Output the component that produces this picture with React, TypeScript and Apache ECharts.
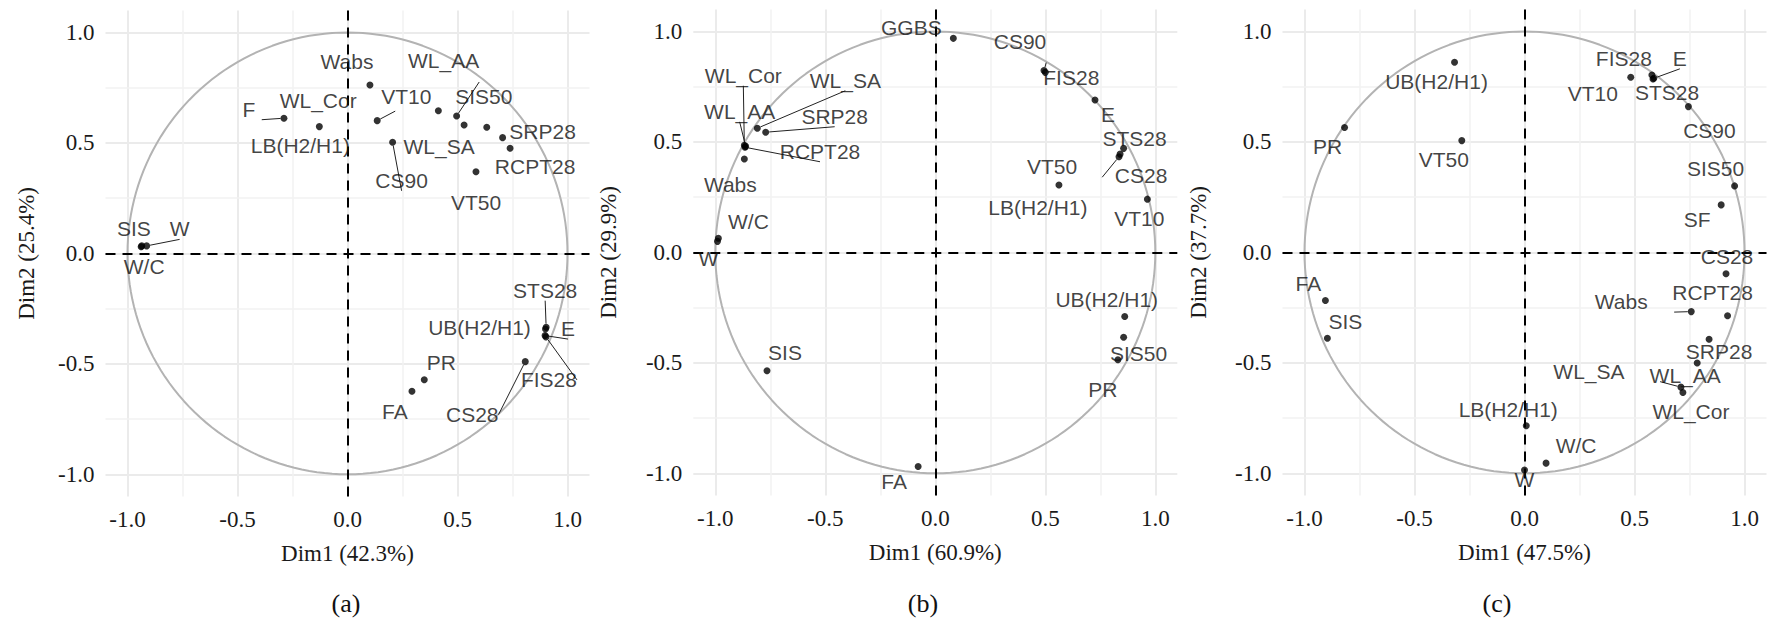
import React, { useEffect, useRef } from "react";
import * as echarts from "echarts";

// ---------- tick / grid values ----------
const tickValues = [-1, -0.5, 0, 0.5, 1];
const majorGrid = [-1, -0.5, 0, 0.5, 1];
const minorGrid = [-0.75, -0.25, 0.25, 0.75];

const dim1Titles = ["Dim1 (42.3%)", "Dim1 (60.9%)", "Dim1 (47.5%)"];
const dim2Titles = ["Dim2 (25.4%)", "Dim2 (29.9%)", "Dim2 (37.7%)"];
const captions = ["(a)", "(b)", "(c)"];

// ---------- panel (a) ----------
const varsA = ["Wabs", "VT10", "WL_Cor", "F", "LB(H2/H1)", "CS90", "WL_AA", "WL_SA", "SIS50", "SRP28", "RCPT28", "VT50", "SIS", "W/C", "W", "STS28", "UB(H2/H1)", "E", "FIS28", "CS28", "PR", "FA"];
const dim1A = [0.102, 0.413, 0.135, -0.289, -0.128, 0.205, 0.496, 0.530, 0.633, 0.705, 0.739, 0.584, -0.935, -0.938, -0.913, 0.903, 0.900, 0.898, 0.902, 0.808, 0.349, 0.293];
const dim2A = [0.762, 0.646, 0.601, 0.612, 0.574, 0.503, 0.622, 0.581, 0.571, 0.524, 0.476, 0.370, 0.034, 0.030, 0.034, -0.334, -0.342, -0.372, -0.378, -0.490, -0.572, -0.624];

// ---------- panel (b) ----------
const varsB = ["GGBS", "CS90", "FIS28", "E", "STS28", "VT50", "CS28", "LB(H2/H1)", "VT10", "UB(H2/H1)", "SIS50", "PR", "FA", "SIS", "W/C", "W", "Wabs", "RCPT28", "SRP28", "WL_SA", "WL_Cor", "WL_AA"];
const dim1B = [0.082, 0.494, 0.500, 0.726, 0.856, 0.835, 0.840, 0.562, 0.964, 0.861, 0.856, 0.830, -0.078, -0.765, -0.986, -0.990, -0.868, -0.865, -0.771, -0.809, -0.868, -0.862];
const dim2B = [0.969, 0.823, 0.815, 0.690, 0.471, 0.433, 0.445, 0.305, 0.241, -0.290, -0.384, -0.486, -0.969, -0.536, 0.064, 0.050, 0.423, 0.476, 0.544, 0.562, 0.485, 0.480];

// ---------- panel (c) ----------
const varsC = ["UB(H2/H1)", "PR", "VT50", "FA", "SIS", "VT10", "FIS28", "E", "STS28", "CS90", "SIS50", "SF", "CS28", "RCPT28", "Wabs", "SRP28", "WL_AA", "WL_SA", "WL_Cor", "LB(H2/H1)", "W/C", "W"];
const dim1C = [-0.318, -0.818, -0.285, -0.905, -0.896, 0.483, 0.579, 0.588, 0.584, 0.745, 0.955, 0.894, 0.916, 0.923, 0.758, 0.839, 0.785, 0.711, 0.720, 0.008, 0.098, 0.000];
const dim2C = [0.861, 0.565, 0.506, -0.218, -0.389, 0.793, 0.803, 0.788, 0.785, 0.660, 0.301, 0.215, -0.097, -0.287, -0.268, -0.393, -0.501, -0.610, -0.634, -0.785, -0.954, -0.985];

// ---------- label placement (pixel offsets of label centre from point, leader line flag) ----------
type Place = [number, number, boolean?];
const placeA: Place[] = [
  [-23, -24], [-32, -14], [-59, -20, true], [-35, -9, true], [-19, 19], [9, 38, true], [-13, -55, true],
  [-25, 21], [-3, -31], [40, -6], [25, 18], [0, 31], [-8, -17], [3, 20], [33, -17, true],
  [-1, -37, true], [-66, -1], [23, -7, true], [3, 43, true], [-53, 53, true], [17, -17], [-17, 20],
];
const placeB: Place[] = [
  [-42, -11], [-24, -29, true], [26, 5], [13, 15], [11, -10], [-67, 10, true], [21, 21], [-21, 22],
  [-8, 19], [-18, -17], [15, 16], [-15, 30], [-24, 15], [18, -18], [30, -17], [-9, 17],
  [-14, 26], [75, 4, true], [69, -16, true], [88, -48, true], [-1, -70, true], [-6, -35, true],
];
const placeC: Place[] = [
  [-18, 19], [-17, 19], [-18, 19], [-17, -17], [18, -17], [-38, 16], [-28, -17], [26, -20, true],
  [14, 14], [21, 24], [-19, -17], [-24, 15], [1, -17], [-15, -23], [-70, -10, true], [10, 12],
  [-12, 12], [-92, -16, true], [8, 19], [-18, -16], [30, -18], [0, 10],
];

// ---------- layout ----------
const panelLayout = [
  { left: 105.5, top: 10.4, nameGapY: 68, captionX: 346 },
  { left: 693.3, top: 9.4, nameGapY: 73, captionX: 923 },
  { left: 1282.5, top: 9.4, nameGapY: 73, captionX: 1497 },
];
const PW = 484;
const PH = 486;

const SERIF = '"Liberation Serif", "Times New Roman", serif';
const SANS = '"Liberation Sans", Arial, sans-serif';

const panelsData = [
  { names: varsA, xs: dim1A, ys: dim2A, place: placeA },
  { names: varsB, xs: dim1B, ys: dim2B, place: placeB },
  { names: varsC, xs: dim1C, ys: dim2C, place: placeC },
];

function buildOption() {
  const circle: number[][] = [];
  for (let k = 0; k <= 360; k += 2) {
    const t = (k * Math.PI) / 180;
    circle.push([Math.cos(t), Math.sin(t)]);
  }
  const gridLines: any[] = [];
  majorGrid.forEach((v) => {
    gridLines.push({ xAxis: v, lineStyle: { color: "#ebebeb", width: 2, type: "solid" } });
    gridLines.push({ yAxis: v, lineStyle: { color: "#ebebeb", width: 2, type: "solid" } });
  });
  minorGrid.forEach((v) => {
    gridLines.push({ xAxis: v, lineStyle: { color: "#f2f2f2", width: 1.5, type: "solid" } });
    gridLines.push({ yAxis: v, lineStyle: { color: "#f2f2f2", width: 1.5, type: "solid" } });
  });

  const series: any[] = [];
  panelsData.forEach((p, i) => {
    series.push({
      type: "line",
      xAxisIndex: i,
      yAxisIndex: i,
      data: circle,
      showSymbol: false,
      silent: true,
      z: 2,
      lineStyle: { color: "#b3b3b3", width: 2 },
      markLine: {
        silent: true,
        z: 1,
        symbol: ["none", "none"],
        label: { show: false },
        emphasis: { disabled: true },
        data: gridLines,
      },
    });
    series.push({
      type: "scatter",
      xAxisIndex: i,
      yAxisIndex: i,
      symbolSize: 7,
      z: 4,
      itemStyle: { color: "#000" },
      label: {
        show: true,
        position: "inside",
        formatter: "{b}",
        fontFamily: SANS,
        fontSize: 21,
        color: "#111",
      },
      labelLine: { show: false, lineStyle: { color: "#222", width: 1 } },
      markLine: {
        silent: true,
        z: 3,
        symbol: ["none", "none"],
        label: { show: false },
        emphasis: { disabled: true },
        lineStyle: { type: [10, 7], color: "#000", width: 2 },
        data: [{ xAxis: 0 }, { yAxis: 0 }],
      },
      data: p.names.map((n, j) => ({
        name: n,
        value: [p.xs[j], p.ys[j]],
        label: { offset: [p.place[j][0], p.place[j][1]] },
        labelLine: { show: !!p.place[j][2] },
      })),
    });
  });

  return {
    animation: false,
    backgroundColor: "#fff",
    grid: panelLayout.map((l) => ({ left: l.left, top: l.top, width: PW, height: PH, containLabel: false })),
    xAxis: panelLayout.map((l, i) => ({
      type: "value",
      gridIndex: i,
      min: -1.1,
      max: 1.1,
      axisLine: { show: false },
      axisTick: { show: true, length: 6, customValues: tickValues, lineStyle: { color: "#333", width: 2 } },
      axisLabel: {
        customValues: tickValues,
        formatter: (v: number) => v.toFixed(1),
        fontFamily: SERIF,
        fontSize: 23,
        color: "#1a1a1a",
        margin: 12,
      },
      splitLine: { show: false },
      name: dim1Titles[i],
      nameLocation: "middle",
      nameGap: 46,
      nameTextStyle: { fontFamily: SERIF, fontSize: 23, color: "#1a1a1a" },
    })),
    yAxis: panelLayout.map((l, i) => ({
      type: "value",
      gridIndex: i,
      min: -1.1,
      max: 1.1,
      axisLine: { show: false },
      axisTick: { show: true, length: 6, customValues: tickValues, lineStyle: { color: "#333", width: 2 } },
      axisLabel: {
        customValues: tickValues,
        formatter: (v: number) => v.toFixed(1),
        fontFamily: SERIF,
        fontSize: 23,
        color: "#1a1a1a",
        margin: 11,
      },
      splitLine: { show: false },
      name: dim2Titles[i],
      nameLocation: "middle",
      nameGap: l.nameGapY,
      nameTextStyle: { fontFamily: SERIF, fontSize: 23, color: "#1a1a1a" },
    })),
    graphic: panelLayout.map((l, i) => ({
      type: "text",
      x: l.captionX,
      y: 603,
      style: {
        text: captions[i],
        fontFamily: SERIF,
        fontSize: 26,
        fill: "#111",
        align: "center",
        verticalAlign: "middle",
      },
    })),
    series,
  };
}

export default function App() {
  const ref = useRef<HTMLDivElement>(null);
  useEffect(() => {
    if (!ref.current) return;
    const chart = echarts.init(ref.current, undefined, { renderer: "svg" });
    chart.setOption(buildOption() as any);
    return () => chart.dispose();
  }, []);
  return (
    <div
      ref={ref}
      style={{ position: "fixed", left: 0, top: 0, width: 1783, height: 624, background: "#fff" }}
    />
  );
}
